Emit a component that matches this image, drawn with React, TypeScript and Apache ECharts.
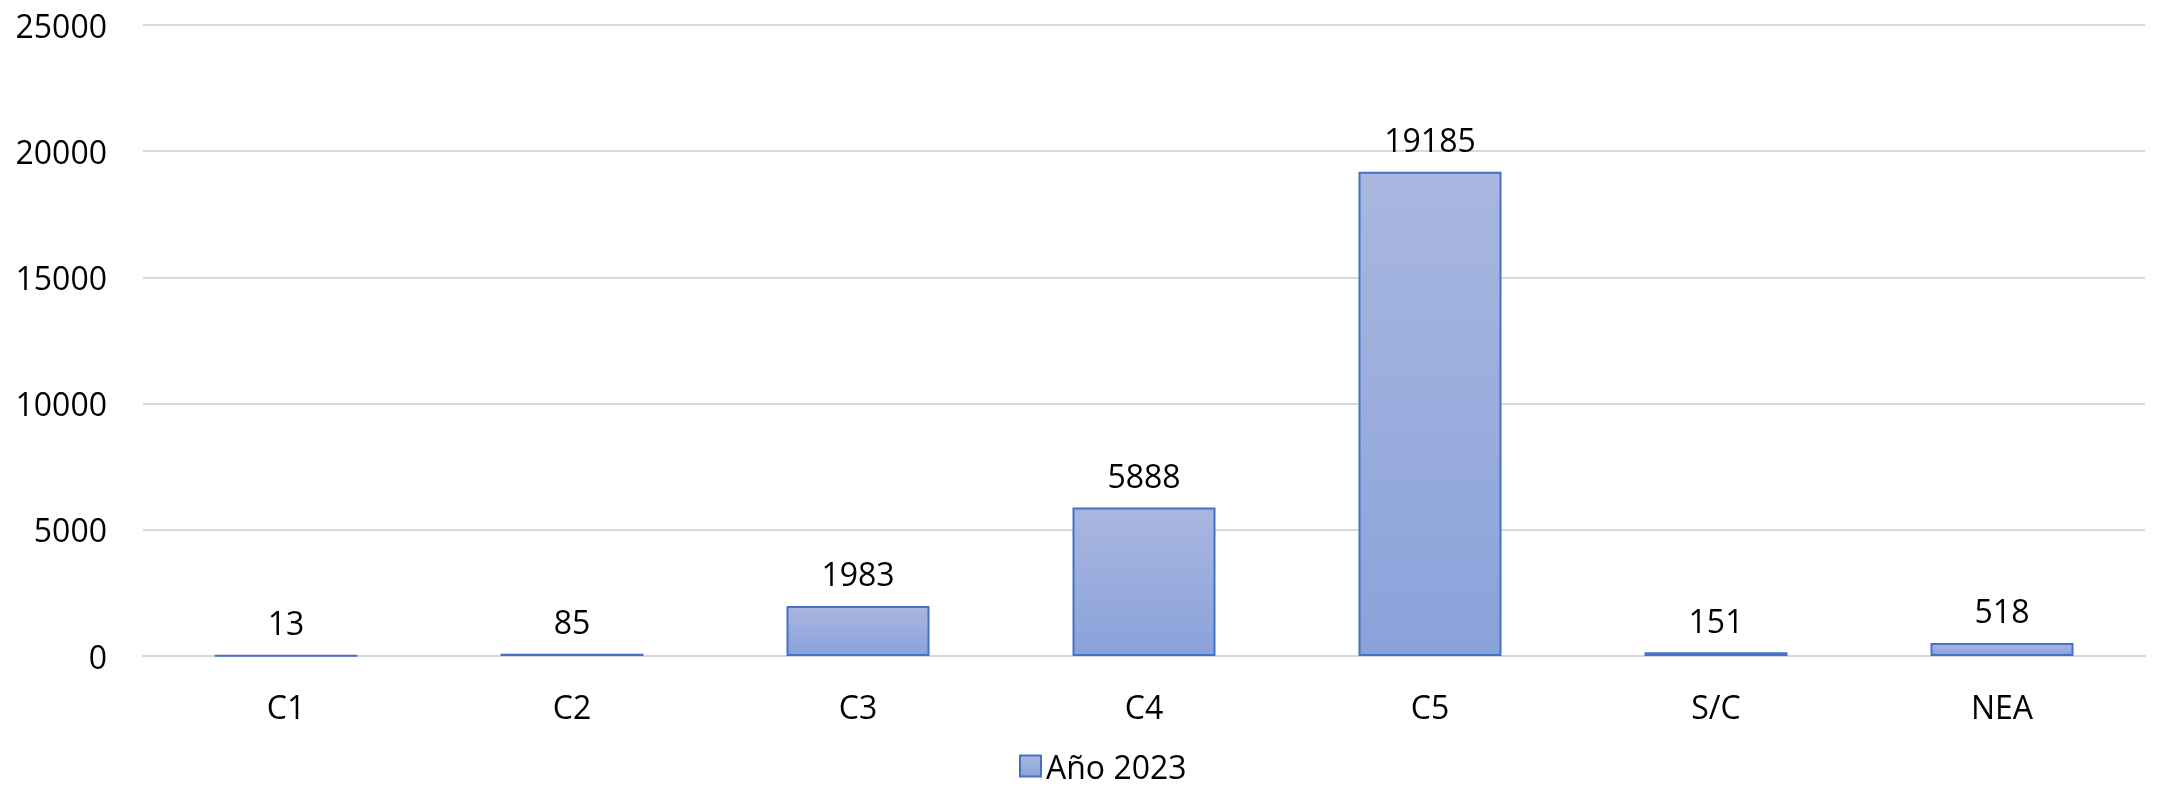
import React, { useEffect, useRef } from "react";
import * as echarts from "echarts";

const categories = ["C1", "C2", "C3", "C4", "C5", "S/C", "NEA"];
const values2023 = [13, 85, 1983, 5888, 19185, 151, 518];
const seriesName = "Año 2023";

const FONT = "'Open Sans', 'Liberation Sans', sans-serif";

export default function App() {
  const ref = useRef<HTMLDivElement>(null);
  useEffect(() => {
    if (!ref.current) return;
    const chart = echarts.init(ref.current, undefined, { renderer: "svg" });
    const fill = new echarts.graphic.LinearGradient(0, 0, 0, 1, [
      { offset: 0, color: "#a9b7e0" },
      { offset: 1, color: "#8aa2da" },
    ]);
    chart.setOption({
      animation: false,
      textStyle: { fontFamily: FONT },
      grid: { left: 143, right: 31, top: 25, bottom: 131, containLabel: false },
      legend: {
        bottom: 5,
        left: 1019,
        padding: 0,
        icon: "rect",
        itemWidth: 21,
        itemHeight: 21,
        itemGap: 10,
        textStyle: { fontSize: 32, lineHeight: 32, color: "#000", fontFamily: FONT },
        data: [seriesName],
      },
      xAxis: {
        type: "category",
        data: categories,
        axisLine: { show: true, lineStyle: { color: "#d9d9d9", width: 2 } },
        axisTick: { show: false },
        axisLabel: { fontSize: 32, color: "#000", margin: 34, fontFamily: FONT },
      },
      yAxis: {
        type: "value",
        min: 0,
        max: 25000,
        interval: 5000,
        axisLine: { show: false },
        axisTick: { show: false },
        splitLine: { lineStyle: { color: "#d9d9d9", width: 2 } },
        axisLabel: {
          fontSize: 32,
          color: "#000",
          margin: 36,
          fontFamily: FONT,
          formatter: (v: number) => String(v),
        },
      },
      series: [
        {
          name: seriesName,
          type: "bar",
          data: values2023,
          barCategoryGap: "50%",
          itemStyle: { color: fill, borderColor: "#4472c4", borderWidth: 2 },
          label: {
            show: true,
            position: "top",
            distance: 16,
            fontSize: 32,
            color: "#000",
            fontFamily: FONT,
          },
        },
      ],
    });
    return () => chart.dispose();
  }, []);
  return (
    <div style={{ position: "fixed", left: 0, top: 0, width: 2176, height: 787 }}>
      <div ref={ref} style={{ width: 2176, height: 787 }} />
    </div>
  );
}
